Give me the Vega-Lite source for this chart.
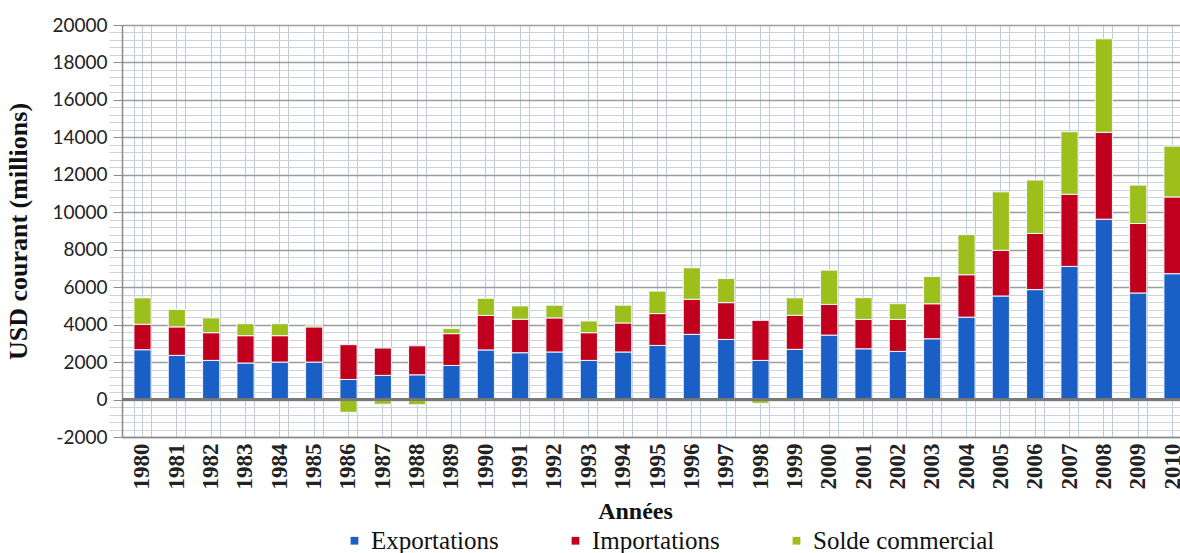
{
  "$schema": "https://vega.github.io/schema/vega-lite/v6.json",
  "width": 1058,
  "height": 412,
  "autosize": "none",
  "padding": {"left": 122, "top": 25, "right": 0, "bottom": 116},
  "background": "white",
  "config": {"view": {"stroke": null}},
  "data": {"values": [
    {"annee":"1980","serie":"Exportations","valeur":2660},{"annee":"1980","serie":"Importations","valeur":1360},{"annee":"1980","serie":"Solde commercial","valeur":1410},
    {"annee":"1981","serie":"Exportations","valeur":2360},{"annee":"1981","serie":"Importations","valeur":1520},{"annee":"1981","serie":"Solde commercial","valeur":930},
    {"annee":"1982","serie":"Exportations","valeur":2090},{"annee":"1982","serie":"Importations","valeur":1480},{"annee":"1982","serie":"Solde commercial","valeur":790},
    {"annee":"1983","serie":"Exportations","valeur":1950},{"annee":"1983","serie":"Importations","valeur":1460},{"annee":"1983","serie":"Solde commercial","valeur":640},
    {"annee":"1984","serie":"Exportations","valeur":2000},{"annee":"1984","serie":"Importations","valeur":1410},{"annee":"1984","serie":"Solde commercial","valeur":640},
    {"annee":"1985","serie":"Exportations","valeur":2000},{"annee":"1985","serie":"Importations","valeur":1880},{"annee":"1985","serie":"Solde commercial","valeur":90},
    {"annee":"1986","serie":"Exportations","valeur":1070},{"annee":"1986","serie":"Importations","valeur":1860},{"annee":"1986","serie":"Solde commercial","valeur":-680},
    {"annee":"1987","serie":"Exportations","valeur":1290},{"annee":"1987","serie":"Importations","valeur":1460},{"annee":"1987","serie":"Solde commercial","valeur":-250},
    {"annee":"1988","serie":"Exportations","valeur":1320},{"annee":"1988","serie":"Importations","valeur":1550},{"annee":"1988","serie":"Solde commercial","valeur":-280},
    {"annee":"1989","serie":"Exportations","valeur":1820},{"annee":"1989","serie":"Importations","valeur":1700},{"annee":"1989","serie":"Solde commercial","valeur":270},
    {"annee":"1990","serie":"Exportations","valeur":2650},{"annee":"1990","serie":"Importations","valeur":1840},{"annee":"1990","serie":"Solde commercial","valeur":920},
    {"annee":"1991","serie":"Exportations","valeur":2500},{"annee":"1991","serie":"Importations","valeur":1790},{"annee":"1991","serie":"Solde commercial","valeur":710},
    {"annee":"1992","serie":"Exportations","valeur":2540},{"annee":"1992","serie":"Importations","valeur":1820},{"annee":"1992","serie":"Solde commercial","valeur":680},
    {"annee":"1993","serie":"Exportations","valeur":2090},{"annee":"1993","serie":"Importations","valeur":1480},{"annee":"1993","serie":"Solde commercial","valeur":625},
    {"annee":"1994","serie":"Exportations","valeur":2540},{"annee":"1994","serie":"Importations","valeur":1550},{"annee":"1994","serie":"Solde commercial","valeur":950},
    {"annee":"1995","serie":"Exportations","valeur":2890},{"annee":"1995","serie":"Importations","valeur":1700},{"annee":"1995","serie":"Solde commercial","valeur":1200},
    {"annee":"1996","serie":"Exportations","valeur":3480},{"annee":"1996","serie":"Importations","valeur":1875},{"annee":"1996","serie":"Solde commercial","valeur":1680},
    {"annee":"1997","serie":"Exportations","valeur":3210},{"annee":"1997","serie":"Importations","valeur":1965},{"annee":"1997","serie":"Solde commercial","valeur":1285},
    {"annee":"1998","serie":"Exportations","valeur":2090},{"annee":"1998","serie":"Importations","valeur":2140},{"annee":"1998","serie":"Solde commercial","valeur":-200},
    {"annee":"1999","serie":"Exportations","valeur":2680},{"annee":"1999","serie":"Importations","valeur":1820},{"annee":"1999","serie":"Solde commercial","valeur":930},
    {"annee":"2000","serie":"Exportations","valeur":3440},{"annee":"2000","serie":"Importations","valeur":1640},{"annee":"2000","serie":"Solde commercial","valeur":1830},
    {"annee":"2001","serie":"Exportations","valeur":2710},{"annee":"2001","serie":"Importations","valeur":1570},{"annee":"2001","serie":"Solde commercial","valeur":1160},
    {"annee":"2002","serie":"Exportations","valeur":2570},{"annee":"2002","serie":"Importations","valeur":1710},{"annee":"2002","serie":"Solde commercial","valeur":840},
    {"annee":"2003","serie":"Exportations","valeur":3245},{"annee":"2003","serie":"Importations","valeur":1870},{"annee":"2003","serie":"Solde commercial","valeur":1460},
    {"annee":"2004","serie":"Exportations","valeur":4400},{"annee":"2004","serie":"Importations","valeur":2265},{"annee":"2004","serie":"Solde commercial","valeur":2140},
    {"annee":"2005","serie":"Exportations","valeur":5530},{"annee":"2005","serie":"Importations","valeur":2440},{"annee":"2005","serie":"Solde commercial","valeur":3120},
    {"annee":"2006","serie":"Exportations","valeur":5870},{"annee":"2006","serie":"Importations","valeur":3000},{"annee":"2006","serie":"Solde commercial","valeur":2850},
    {"annee":"2007","serie":"Exportations","valeur":7110},{"annee":"2007","serie":"Importations","valeur":3850},{"annee":"2007","serie":"Solde commercial","valeur":3340},
    {"annee":"2008","serie":"Exportations","valeur":9630},{"annee":"2008","serie":"Importations","valeur":4640},{"annee":"2008","serie":"Solde commercial","valeur":4990},
    {"annee":"2009","serie":"Exportations","valeur":5690},{"annee":"2009","serie":"Importations","valeur":3710},{"annee":"2009","serie":"Solde commercial","valeur":2050},
    {"annee":"2010","serie":"Exportations","valeur":6720},{"annee":"2010","serie":"Importations","valeur":4100},{"annee":"2010","serie":"Solde commercial","valeur":2710}
  ]},
  "resolve": {"axis": {"x": "independent", "y": "independent"}},
  "layer": [
    {
      "mark": {"type": "bar", "opacity": 0},
      "encoding": {
        "x": {"field": "annee", "type": "ordinal",
              "scale": {"range": [0, 1071], "paddingInner": 0.5, "paddingOuter": 0.347},
              "axis": {"orient": "top", "labels": false, "ticks": false, "domain": false, "title": null,
                       "grid": true, "tickBand": "extent", "gridColor": "#bccad6", "gridWidth": 1}},
        "y": {"field": "valeur", "type": "quantitative",
              "scale": {"domain": [-2000, 20000], "nice": false, "zero": false},
              "axis": {"orient": "right", "labels": false, "ticks": false, "domain": false, "title": null,
                       "grid": true, "gridColor": "#cdd2da", "gridWidth": 1,
                       "values": [-1600,-1200,-800,-400,400,800,1200,1600,2400,2800,3200,3600,4400,4800,5200,5600,6400,6800,7200,7600,8400,8800,9200,9600,10400,10800,11200,11600,12400,12800,13200,13600,14400,14800,15200,15600,16400,16800,17200,17600,18400,18800,19200,19600]}}
      }
    },
    {
      "mark": {"type": "bar", "stroke": "#f4f7ff", "strokeWidth": 1},
      "encoding": {
        "x": {"field": "annee", "type": "ordinal",
              "scale": {"range": [0, 1071], "paddingInner": 0.5, "paddingOuter": 0.347},
              "axis": {"title": "Années", "titleFont": "Liberation Serif", "titleFontWeight": "bold", "titleFontSize": 24,
                       "titleColor": "#111", "titlePadding": 10, "titleX": 513, "titleAlign": "center",
                       "labelAngle": -90, "labelFont": "Liberation Serif", "labelFontWeight": "bold", "labelFontSize": 23,
                       "labelColor": "#222", "labelPadding": 6, "ticks": false,
                       "domain": true, "domainColor": "#8a8a8a", "domainWidth": 1.5,
                       "grid": true, "gridColor": "#bccad6", "gridWidth": 1}},
        "y": {"field": "valeur", "type": "quantitative", "stack": "zero",
              "scale": {"domain": [-2000, 20000], "nice": false, "zero": false},
              "axis": {"title": "USD courant (millions)", "titleFont": "Liberation Serif", "titleFontWeight": "bold",
                       "titleFontSize": 26, "titleColor": "#111", "titlePadding": 20,
                       "values": [-2000,0,2000,4000,6000,8000,10000,12000,14000,16000,18000,20000],
                       "labelExpr": "datum.value < 0 ? '-' + abs(datum.value) : '' + datum.value",
                       "labelFont": "Lato", "labelFontSize": 19, "labelColor": "#222", "labelPadding": 6,
                       "tickSize": 9, "tickColor": "#8a8a8a", "domainColor": "#8a8a8a", "domainWidth": 1.5,
                       "grid": true, "gridColor": "#9c9c9c", "gridWidth": 1.5}},
        "order": {"field": "serie", "sort": "ascending"},
        "color": {"field": "serie", "type": "nominal",
                  "scale": {"domain": ["Exportations", "Importations", "Solde commercial"],
                            "range": ["#1a5fc6", "#c0001c", "#9cbf1c"]},
                  "legend": {"title": null, "orient": "none", "direction": "horizontal", "legendX": 220, "legendY": 503,
                             "labelFont": "Liberation Serif", "labelFontSize": 25, "labelColor": "#111", "labelLimit": 400,
                             "symbolType": "square", "symbolSize": 60, "symbolStrokeWidth": 0, "columnPadding": 64,
                             "labelOffset": 4}}
      }
    },
    {
      "mark": {"type": "rule", "color": "#7a7a7a", "strokeWidth": 1.5},
      "encoding": {"y": {"datum": 0, "axis": null}}
    }
  ]
}
